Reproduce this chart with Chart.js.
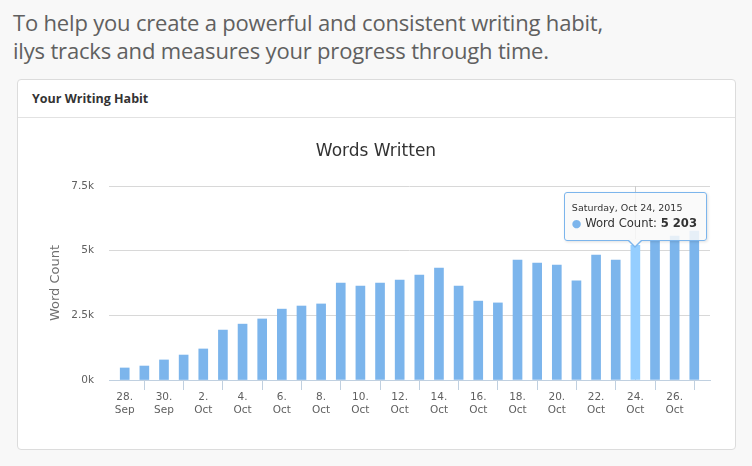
<!DOCTYPE html>
<html>
<head>
<meta charset="utf-8">
<script src="https://cdn.jsdelivr.net/npm/chart.js@4.4.1/dist/chart.umd.min.js"></script>
<style>
  html, body { margin:0; padding:0; }
  body { width:752px; height:466px; overflow:hidden; background:#f8f8f8; position:relative; font-family:'Open Sans', sans-serif; }
  #intro { position:absolute; left:13px; top:8px; font-size:22px; font-weight:400; color:#606060; line-height:28px; white-space:nowrap; letter-spacing:-0.18px; }
  #card { position:absolute; left:17px; top:79px; width:719px; height:371px; box-sizing:border-box; border:1px solid #dcdcdc; border-radius:4px; background:#fff; }
  #cardHead { height:38px; box-sizing:border-box; border-bottom:1px solid #e2e2e2; padding-left:14px; font-size:12.5px; font-weight:700; color:#333; line-height:38px; }
  #wrap { position:absolute; left:18px; top:119px; width:716px; height:329px; }
  #tip { position:absolute; background:rgba(249,249,249,0.85); border:1px solid #7cb5ec; border-radius:3px; padding:8px 9px 8px 7px; font-family:'DejaVu Sans', sans-serif; color:#333; white-space:nowrap; box-shadow:1px 1px 3px rgba(0,0,0,0.12); }
  #tip .t { font-size:9.5px; line-height:14px; }
  #tip .b { font-size:11.6px; line-height:16px; }
  #tip .dot { color:#7cb5ec; font-size:11px; }
  #tip b { font-weight:bold; }
  #tip:after, #tip:before { content:''; position:absolute; left:50%; width:0; height:0; border-style:solid; }
  #tip:before { bottom:-8px; margin-left:-8px; border-width:8px 8px 0 8px; border-color:#7cb5ec transparent transparent transparent; }
  #tip:after { bottom:-6px; margin-left:-7px; border-width:7px 7px 0 7px; border-color:#f9f9f9 transparent transparent transparent; }
</style>
</head>
<body>
<div id="intro">To help you create a powerful and consistent writing habit,<br>ilys tracks and measures your progress through time.</div>
<div id="card"><div id="cardHead">Your Writing Habit</div></div>
<div id="wrap"><canvas id="c" width="716" height="329"></canvas><div id="tip"></div></div>
<script>
// ---- data ----
const days   = [28,29,30,1,2,3,4,5,6,7,8,9,10,11,12,13,14,15,16,17,18,19,20,21,22,23,24,25,26,27];
const months = ['Sep','Sep','Sep','Oct','Oct','Oct','Oct','Oct','Oct','Oct','Oct','Oct','Oct','Oct','Oct','Oct','Oct','Oct','Oct','Oct','Oct','Oct','Oct','Oct','Oct','Oct','Oct','Oct','Oct','Oct'];
const year = 2015;
const wordCounts = [465,540,775,965,1200,1930,2160,2360,2740,2860,2940,3750,3630,3750,3860,4060,4330,3630,3050,2980,4640,4520,4440,3830,4830,4640,5203,5400,5560,5760];
const xTickIndices = [0,2,4,6,8,10,12,14,16,18,20,22,24,26,28];
const yTicks = [0,2500,5000,7500];
const highlightIndex = 26;
const seriesName = 'Word Count';
const weekdayNames = ['Sunday','Monday','Tuesday','Wednesday','Thursday','Friday','Saturday'];
const monthNames = {Sep:8, Oct:9};

const barColor = '#7cb5ec';
const hoverColor = '#95ceff';

const crosshair = {
  id:'crosshair',
  beforeDatasetsDraw(chart){
    const xs = chart.scales.x, a = chart.chartArea, ctx = chart.ctx;
    const x = Math.round(xs.getPixelForValue(highlightIndex)) + 0.5;
    ctx.save(); ctx.strokeStyle = '#cccccc'; ctx.lineWidth = 1;
    ctx.beginPath(); ctx.moveTo(x, a.top); ctx.lineTo(x, a.bottom); ctx.stroke(); ctx.restore();
  }
};

const tipPlugin = {
  id:'tipPlugin',
  afterRender(chart){
    const el = chart.getDatasetMeta(0).data[highlightIndex];
    const tip = document.getElementById('tip');
    const d = new Date(year, monthNames[months[highlightIndex]], days[highlightIndex]);
    const title = weekdayNames[d.getDay()] + ', ' + months[highlightIndex] + ' ' + days[highlightIndex] + ', ' + year;
    const v = wordCounts[highlightIndex].toString().replace(/\B(?=(\d{3})+(?!\d))/g, ' ');
    tip.innerHTML = '<div class="t">' + title + '</div><div class="b"><span class="dot">\u25CF</span> ' + seriesName + ': <b>' + v + '</b></div>';
    const w = tip.offsetWidth, h = tip.offsetHeight;
    tip.style.left = (el.x - w/2) + 'px';
    tip.style.top = (el.y - h - 4) + 'px';
  }
};

new Chart(document.getElementById('c'), {
  type:'bar',
  data:{
    datasets:[{
      label: seriesName,
      data: wordCounts.map((v,i)=>({x:i, y:v})),
      backgroundColor: wordCounts.map((v,i)=> i===highlightIndex ? hoverColor : barColor),
      barThickness: 9,
      borderWidth: 0
    }]
  },
  options:{
    responsive:false,
    animation:false,
    events:[],
    layout:{ padding:{ left:0, right:0, top:0, bottom:0 } },
    plugins:{
      legend:{ display:false },
      tooltip:{ enabled:false },
      title:{ display:true, text:'Words Written', color:'#333333',
        font:{ family:'DejaVu Sans', size:17, weight:'normal' }, padding:{ top:22, bottom:24.6 } }
    },
    scales:{
      x:{
        type:'linear', min:-0.8, max:29.8, offset:false,
        afterBuildTicks(s){ s.ticks = xTickIndices.map(v=>({value:v})); },
        afterFit(s){ s.height = 68; },
        ticks:{ autoSkip:false, maxRotation:0, color:'#606060', padding:0,
          font:{ family:'DejaVu Sans', size:10.5, lineHeight:1.3 },
          callback:(v)=>[days[v] + '.', months[v]] },
        grid:{ drawOnChartArea:false, drawTicks:true, tickLength:10, color:'#C0D0E0' },
        border:{ color:'#C0D0E0', width:1 }
      },
      y:{
        min:0, max:7500,
        afterBuildTicks(s){ s.ticks = yTicks.map(v=>({value:v})); },
        afterFit(s){ s.width = 91; },
        ticks:{ color:'#606060', padding:15, font:{ family:'DejaVu Sans', size:10.5 },
          callback:(v)=> (v/1000) + 'k' },
        grid:{ color:'#D8D8D8', drawTicks:false },
        border:{ display:false },
        title:{ display:true, text:'Word Count', color:'#707070',
          font:{ family:'DejaVu Sans', size:13, weight:'normal' }, padding:{ top:30, bottom:0 } }
      },
      yRight:{
        position:'right', display:true,
        afterFit(s){ s.width = 24; },
        grid:{ display:false, drawTicks:false },
        border:{ display:false },
        ticks:{ display:false }
      }
    }
  },
  plugins:[crosshair, tipPlugin]
});
</script>
</body>
</html>
